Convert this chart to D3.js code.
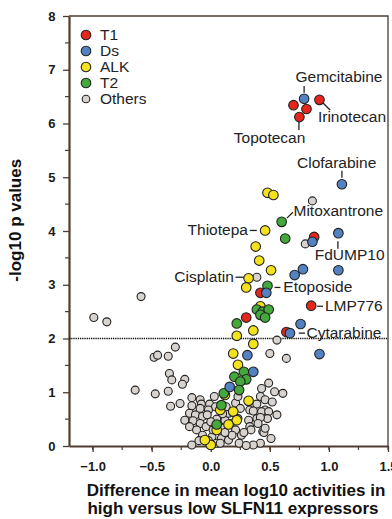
<!DOCTYPE html>
<html>
<head>
<meta charset="utf-8">
<script src="https://cdn.jsdelivr.net/npm/d3@7"></script>
<style>
  body { margin: 0; background: #fff; }
  svg { font-family: "Liberation Sans", Arial, sans-serif; }
</style>
</head>
<body>
<div id="chart"></div>
<script>
// data: [difference, -log10 p]
const others = [
  [-0.99,2.39],[-0.88,2.31],[-0.59,2.78],[-0.30,1.84],[-0.48,1.65],[-0.45,1.69],[-0.36,1.67],
  [-0.35,1.35],[-0.33,1.23],[-0.22,1.24],[-0.24,1.15],[-0.64,1.04],[-0.47,0.97],[-0.36,1.02],
  [-0.34,0.74],[-0.26,0.79],[-0.16,0.90],[-0.09,0.86],[0.03,0.92],[-0.16,0.75],[-0.08,0.78],
  [-0.01,0.78],[0.04,0.73],[-0.18,0.61],[-0.13,0.58],[-0.07,0.55],[-0.22,0.48],[-0.15,0.47],
  [-0.09,0.42],[-0.18,0.36],[-0.12,0.30],[-0.04,0.36],[-0.07,0.20],[0.01,0.17],[0.09,0.14],
  [0.15,0.11],[0.02,0.30],[0.10,0.33],[0.16,0.42],[0.12,0.48],[0.15,0.61],[0.13,0.73],
  [0.21,0.80],[0.23,0.92],[0.25,0.70],[0.23,0.51],[0.21,0.30],[0.26,0.20],[0.24,0.05],
  [-0.16,0.02],[0.05,0.05],[0.33,0.67],[0.32,0.48],[0.39,0.51],[0.46,0.67],[0.42,0.92],
  [0.46,0.86],[0.49,1.17],[0.43,1.07],[0.54,1.01],[0.61,0.98],[0.52,0.82],[0.39,0.78],
  [0.43,0.64],[0.49,0.64],[0.36,0.65],[0.48,0.51],[0.42,0.53],[0.33,0.36],[0.44,0.27],
  [0.51,0.14],[0.42,0.05],[0.36,0.02],[0.30,0.01],[0.45,0.25],[0.40,0.42],[0.46,0.33],
  [0.34,0.30],[0.56,0.58],[0.50,1.72],[0.64,1.63],[0.56,1.97],[0.86,4.56],[0.80,3.76],
  [0.39,3.14],[0.28,0.25],[-0.02,0.67],[-0.09,0.70],[0.10,0.60],[0.05,0.50],[0.00,0.45],
  [-0.03,0.58],[0.18,0.20],[0.12,0.25],[0.08,0.05],[-0.10,0.10],[-0.02,0.10]
];
const alk = [
  [0.48,4.71],[0.53,4.67],[0.46,4.01],[0.38,3.71],[0.41,3.45],[0.51,3.27],[0.32,3.12],
  [0.30,2.95],[0.42,2.60],[0.22,2.05],[0.36,2.15],[0.36,1.90],[0.19,1.72],[0.23,1.51],
  [0.32,0.84],[0.19,0.64],[0.08,0.67],[0.05,0.30],[0.00,0.02],[0.22,0.48],[-0.05,0.11],
  [0.12,0.95],[0.15,0.40]
];
const t2 = [
  [0.60,4.17],[0.63,3.86],[0.48,2.98],[0.39,2.54],[0.44,2.50],[0.49,2.54],[0.42,2.44],
  [0.46,2.39],[0.22,2.28],[0.28,1.38],[0.20,1.29],[0.30,1.24],[0.25,1.20],[0.24,1.04],
  [0.11,0.98],[0.09,0.76],[0.05,0.40]
];
const t1 = [
  [0.70,6.34],[0.81,6.27],[0.75,6.12],[0.92,6.44],[0.875,3.89],[0.42,2.85],[0.85,2.61],
  [0.30,2.39],[0.64,2.12]
];
const ds = [
  [0.79,6.46],[1.11,4.87],[1.08,3.96],[0.86,3.80],[0.78,3.29],[0.71,3.18],[1.08,3.27],
  [0.47,2.85],[0.76,2.27],[0.67,2.10],[0.92,1.71],[0.31,1.69],[0.36,1.38],[0.16,1.10]
];

const legendNames = ['T1', 'Ds', 'ALK', 'T2', 'Others'];
const xTicks = [-1.0, -0.5, 0.0, 0.5, 1.0, 1.5];
const yTicks = [0, 1, 2, 3, 4, 5, 6, 7, 8];
const threshold = 2;

// name, text x, text y, anchor, leader line x1,y1,x2,y2 (data units)
const labels = [
  ['Gemcitabine', 1.085, 6.77, 'middle', [0.79, 6.70, 0.79, 6.57]],
  ['Irinotecan', 0.907, 6.03, 'start', [0.95, 6.38, 1.01, 6.25]],
  ['Topotecan', 0.195, 5.64, 'start', [0.746, 6.03, 0.746, 5.88]],
  ['Clofarabine', 0.73, 5.17, 'start', [1.11, 5.12, 1.11, 4.99]],
  ['Mitoxantrone', 0.70, 4.27, 'start', [0.644, 4.24, 0.695, 4.35]],
  ['Thiotepa', 0.314, 3.93, 'end', [0.33, 4.01, 0.39, 4.01]],
  ['FdUMP10', 0.88, 3.46, 'start', [1.076, 3.81, 1.076, 3.67]],
  ['Cisplatin', 0.195, 3.05, 'end', [0.21, 3.14, 0.28, 3.14]],
  ['Etoposide', 0.614, 2.87, 'start', [0.54, 2.95, 0.59, 2.95]],
  ['LMP776', 0.966, 2.51, 'start', [0.90, 2.60, 0.95, 2.60]],
  ['Cytarabine', 0.81, 2.01, 'start', [0.745, 2.10, 0.797, 2.10]]
];

const colors = { T1: '#e5261c', Ds: '#5282c2', ALK: '#f4e21c', T2: '#42a93a', Others: '#d8d3ce' };
const axisColor = '#4e3d30';

const width = 392, height = 519;
const margin = { top: 16, right: 4, bottom: 73, left: 69 };

const svg = d3.select('#chart').append('svg')
  .attr('width', width)
  .attr('height', height);

const x = d3.scaleLinear().domain([-1.2, 1.5]).range([margin.left, width - margin.right]);
const y = d3.scaleLinear().domain([0, 8]).range([height - margin.bottom, margin.top]);

// frame top/right
svg.append('path')
  .attr('d', `M${x(-1.2)},${y(8)}H${x(1.5)}V${y(0)}`)
  .attr('fill', 'none')
  .attr('stroke', axisColor)
  .attr('stroke-width', 1.3);

// minor ticks
svg.append('g')
  .selectAll('line')
  .data(d3.range(-1.25, 1.51, 0.25).filter(v => v > -1.2))
  .join('line')
  .attr('x1', d => x(d)).attr('x2', d => x(d))
  .attr('y1', y(0)).attr('y2', y(0) + 4)
  .attr('stroke', axisColor).attr('stroke-width', 1.2);
svg.append('g')
  .selectAll('line')
  .data(d3.range(0.5, 8, 1))
  .join('line')
  .attr('y1', d => y(d)).attr('y2', d => y(d))
  .attr('x1', x(-1.2)).attr('x2', x(-1.2) - 4)
  .attr('stroke', axisColor).attr('stroke-width', 1.2);

// x axis
const gx = svg.append('g')
  .attr('transform', `translate(0,${y(0)})`)
  .call(d3.axisBottom(x).tickValues(xTicks).tickFormat(d3.format('.1f')).tickSize(6).tickSizeOuter(0));
// y axis
const gy = svg.append('g')
  .attr('transform', `translate(${x(-1.2)},0)`)
  .call(d3.axisLeft(y).tickValues(yTicks).tickFormat(d3.format('d')).tickSize(6).tickSizeOuter(0));

[gx, gy].forEach(g => {
  g.select('.domain').attr('stroke', axisColor).attr('stroke-width', 2.2);
  g.selectAll('.tick line').attr('stroke', axisColor).attr('stroke-width', 1.3);
  g.selectAll('.tick text')
    .attr('fill', '#1a1a1a')
    .style('font-size', '13px')
    .style('font-weight', 'bold')
    .style('font-family', '"Liberation Sans", Arial, sans-serif');
});
gx.selectAll('.tick text').attr('dy', '1.25em');
gy.selectAll('.tick text').attr('dx', '-0.35em');

// threshold line
svg.append('line')
  .attr('x1', x(-1.2)).attr('x2', x(1.5))
  .attr('y1', y(threshold)).attr('y2', y(threshold))
  .attr('stroke', '#111')
  .attr('stroke-width', 1.4)
  .attr('stroke-dasharray', '1.3,0.9');

// points
const groups = [
  ['Others', others, 4],
  ['ALK', alk, 4.8],
  ['T2', t2, 4.8],
  ['T1', t1, 4.8],
  ['Ds', ds, 4.8]
];
groups.forEach(([name, pts, r]) => {
  svg.append('g')
    .selectAll('circle')
    .data(pts)
    .join('circle')
    .attr('cx', d => x(d[0]))
    .attr('cy', d => y(d[1]))
    .attr('r', r)
    .attr('fill', colors[name])
    .attr('stroke', '#222')
    .attr('stroke-width', 1.1);
});

// annotations
const ann = svg.append('g');
ann.selectAll('line')
  .data(labels)
  .join('line')
  .attr('x1', d => x(d[4][0])).attr('y1', d => y(d[4][1]))
  .attr('x2', d => x(d[4][2])).attr('y2', d => y(d[4][3]))
  .attr('stroke', '#222')
  .attr('stroke-width', 1.3);
ann.selectAll('text')
  .data(labels)
  .join('text')
  .attr('x', d => x(d[1]))
  .attr('y', d => y(d[2]))
  .attr('text-anchor', d => d[3])
  .attr('fill', '#222')
  .style('font-size', '15.5px')
  .text(d => d[0]);

// legend
const legend = svg.append('g').attr('transform', 'translate(86,35)');
const lg = legend.selectAll('g')
  .data(legendNames)
  .join('g')
  .attr('transform', (d, i) => `translate(0,${i * 16})`);
lg.append('circle')
  .attr('r', d => d === 'Others' ? 3.8 : 4.8)
  .attr('fill', d => colors[d])
  .attr('stroke', '#222')
  .attr('stroke-width', 1.1);
lg.append('text')
  .attr('x', 14)
  .attr('dy', '0.35em')
  .attr('fill', '#222')
  .style('font-size', '15.5px')
  .text(d => d);

// axis titles
svg.append('text')
  .attr('transform', `translate(21,${y(4.2)}) rotate(-90)`)
  .attr('text-anchor', 'middle')
  .attr('fill', '#111')
  .style('font-size', '17px')
  .style('font-weight', 'bold')
  .text('-log10 p values');

const xt = svg.append('text')
  .attr('text-anchor', 'middle')
  .attr('fill', '#111')
  .style('font-size', '17px')
  .style('font-weight', 'bold');
xt.append('tspan').attr('x', 236).attr('y', 496).text('Difference in mean log10 activities in');
xt.append('tspan').attr('x', 233).attr('y', 514).text('high versus low SLFN11 expressors');
</script>
</body>
</html>
